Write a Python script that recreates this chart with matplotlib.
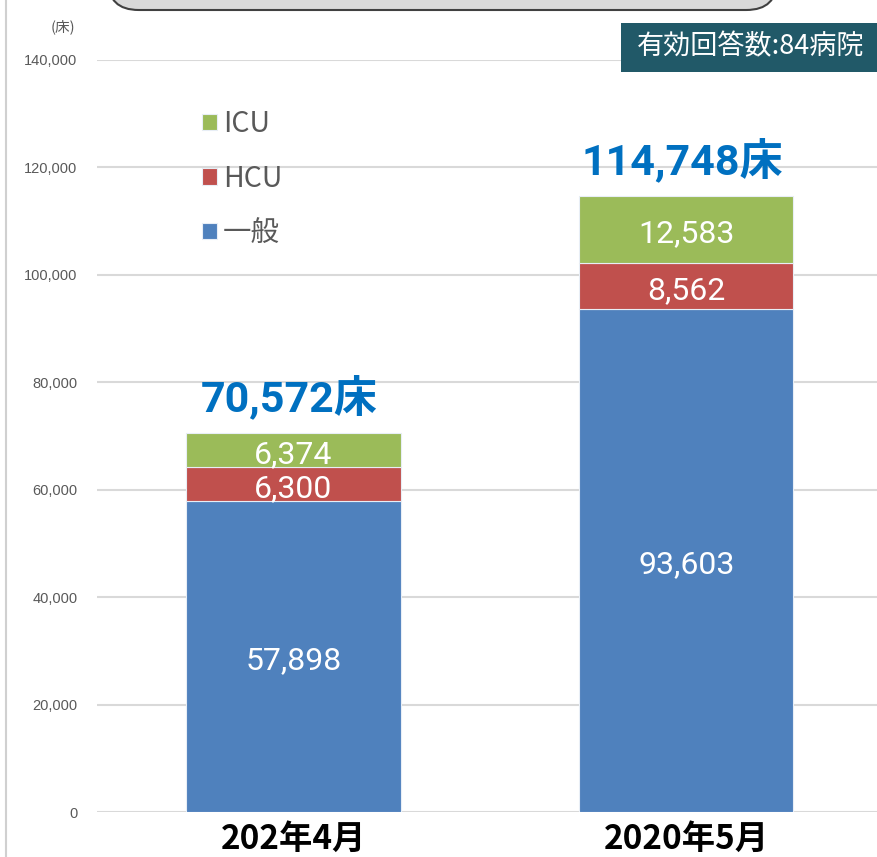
import matplotlib
matplotlib.use("Agg")
import matplotlib.pyplot as plt
from matplotlib.patches import FancyBboxPatch, Rectangle
from matplotlib.lines import Line2D
import numpy as np

plt.rcParams['font.family'] = ['Noto Sans CJK JP', 'DejaVu Sans']

categories = ["202年4月", "2020年5月"]
series_names = ["一般", "HCU", "ICU"]
general = [57898, 93603]
hcu = [6300, 8562]
icu = [6374, 12583]
totals = [70572, 114748]
colors = ["#4F81BD", "#C0504D", "#9BBB59"]
yticks = [0, 20000, 40000, 60000, 80000, 100000, 120000, 140000]
note_text = "有効回答数:84病院"
unit_text = "(床)"

W, H = 877, 857
fig = plt.figure(figsize=(W / 100, H / 100), dpi=100)
ax = fig.add_axes([97 / W, 45 / H, 1 - 97 / W, (812 - 60) / H])

x = np.arange(len(categories))
width = 0.545
bottom = np.zeros(len(categories))
handles = []
for name, vals, c in zip(series_names, [general, hcu, icu], colors):
    bars = ax.bar(x, vals, width, bottom=bottom, color=c, edgecolor="#E8EEF6",
                  linewidth=0.8, zorder=3, label=name)
    handles.append(bars)
    for xi, b, v in zip(x, bottom, vals):
        ax.annotate(f"{v:,}", xy=(xi, b + v / 2), xytext=(0, -3),
                    textcoords="offset points", ha="center", va="center",
                    color="white", fontsize=23,
                    family=["Roboto", "DejaVu Sans"], zorder=4)
    bottom = bottom + np.array(vals)

for xi, t in zip(x, totals):
    ax.annotate(f"{t:,}床", xy=(xi, t), xytext=(-3, 25), textcoords="offset points",
                ha="center", va="center", color="#0070C0", fontsize=31,
                fontweight="bold", family=["Roboto", "Noto Sans CJK JP"])

ax.set_xlim(-0.5, 1.485)
ax.set_ylim(0, 140000)
ax.set_yticks(yticks)
ax.set_yticklabels([f"{v:,}" for v in yticks], fontsize=10.5,
                   family=["Liberation Sans"], color="#595959")
ax.set_xticks(x)
ax.set_xticklabels(categories, fontsize=24, fontweight="bold", color="black")
ax.tick_params(axis="both", length=0)
ax.tick_params(axis="y", pad=14)
ax.tick_params(axis="x", pad=8)
ax.grid(axis="y", color="#D9D9D9", linewidth=1.5, zorder=0)
ax.set_axisbelow(True)
for s in ax.spines.values():
    s.set_visible(False)

leg = ax.legend(handles=handles[::-1], labels=series_names[::-1],
                loc="upper left", bbox_to_anchor=(188 / W, 1 - 95 / H),
                bbox_transform=fig.transFigure, frameon=False, fontsize=20.5,
                handlelength=0.52, handleheight=0.52, handletextpad=0.2,
                labelspacing=0.86, borderpad=0)
for t in leg.get_texts():
    t.set_color("#595959")

fig.text(75 / W, 1 - 27 / H, unit_text, ha="right", va="center", fontsize=10.5,
         color="#595959")

# note box
fig.patches.append(Rectangle((621 / W, 1 - 72 / H), (W - 621) / W, 49 / H,
                             transform=fig.transFigure, facecolor="#215968",
                             edgecolor="none"))
fig.text(751 / W, 1 - 47 / H, note_text, ha="center", va="center",
         fontsize=19.5, color="white")

# top title box (cut off)
fig.patches.append(FancyBboxPatch((108 / W, 1 - 10 / H), (777 - 108) / W, 60 / H,
                                  boxstyle="round,pad=0,rounding_size=0.035",
                                  transform=fig.transFigure, facecolor="#D9D9D9",
                                  edgecolor="#404040", linewidth=1.5))
# left border
fig.add_artist(Line2D([6 / W, 6 / W], [0, 1], transform=fig.transFigure,
                      color="#D0D0D0", linewidth=1.5))

fig.savefig("out.png", dpi=100)
